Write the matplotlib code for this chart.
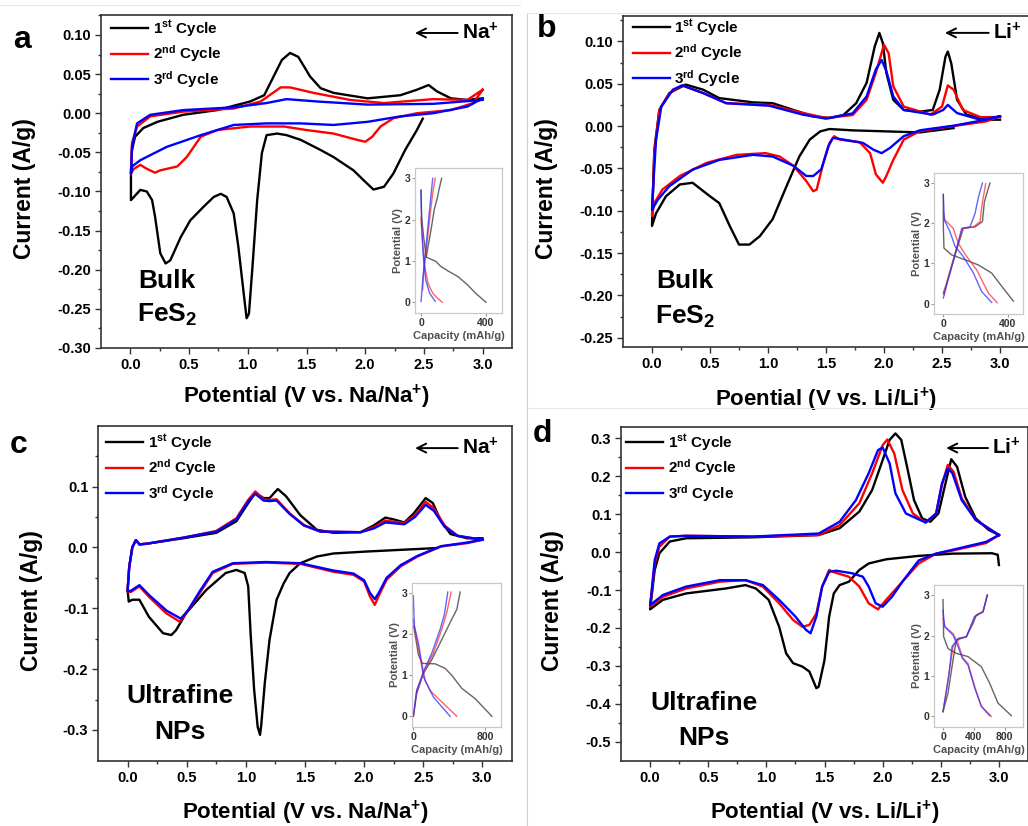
import matplotlib
matplotlib.use("Agg")
import matplotlib.pyplot as plt
import numpy as np

plt.rcParams.update({
    'font.family': ['Liberation Sans', 'DejaVu Sans'],
    'font.weight': 'bold',
    'axes.labelweight': 'bold',
    'axes.unicode_minus': False,
    'mathtext.fontset': 'custom',
    'mathtext.rm': 'Liberation Sans:bold',
    'mathtext.bf': 'Liberation Sans:bold',
    'mathtext.it': 'Liberation Sans:bold',
    'mathtext.default': 'rm',
})

BLACK, RED, BLUE = "#000000", "#ff0000", "#0000ff"

# ---- CV loops (potential V, current A/g) ----
A1 = [(2.49, -0.007), (2.44, -0.0215), (2.34, -0.047), (2.24, -0.077), (2.16, -0.094),
      (2.07, -0.0975), (2.00, -0.0876), (1.90, -0.073), (1.73, -0.056), (1.62, -0.047),
      (1.45, -0.034), (1.33, -0.028), (1.25, -0.026), (1.16, -0.028), (1.12, -0.051),
      (1.08, -0.111), (1.04, -0.196), (1.01, -0.256), (0.99, -0.262), (0.965, -0.23),
      (0.92, -0.171), (0.88, -0.128), (0.82, -0.107), (0.77, -0.103), (0.71, -0.107),
      (0.62, -0.12), (0.51, -0.137), (0.43, -0.158), (0.34, -0.188), (0.30, -0.192),
      (0.255, -0.179), (0.21, -0.132), (0.185, -0.111), (0.14, -0.100), (0.085, -0.098),
      (0.03, -0.107), (0.005, -0.111), (0.005, -0.077), (0.014, -0.047), (0.04, -0.030),
      (0.11, -0.019), (0.23, -0.011), (0.45, -0.002), (0.74, 0.004), (1.02, 0.015),
      (1.14, 0.023), (1.22, 0.047), (1.29, 0.068), (1.36, 0.077), (1.43, 0.072),
      (1.53, 0.047), (1.62, 0.032), (1.73, 0.026), (2.02, 0.019), (2.30, 0.023),
      (2.44, 0.030), (2.54, 0.036), (2.61, 0.028), (2.73, 0.019), (2.87, 0.017), (3.0, 0.019)]
A2 = [(3.0, 0.030), (2.92, 0.013), (2.73, 0.004), (2.44, 0.0), (2.24, -0.0064),
      (2.13, -0.017), (2.06, -0.030), (2.0, -0.0365), (1.93, -0.034), (1.73, -0.026),
      (1.5, -0.0215), (1.31, -0.017), (1.02, -0.017), (0.74, -0.0215), (0.6, -0.030),
      (0.48, -0.056), (0.40, -0.068), (0.255, -0.073), (0.21, -0.076), (0.14, -0.071),
      (0.085, -0.066), (0.03, -0.071), (0.005, -0.077), (0.014, -0.038), (0.057, -0.017),
      (0.17, -0.004), (0.45, 0.002), (0.88, 0.006), (1.11, 0.015), (1.28, 0.033),
      (1.36, 0.033), (1.56, 0.026), (1.87, 0.017), (2.16, 0.013), (2.58, 0.018),
      (2.87, 0.017), (3.0, 0.030)]
A3 = [(3.0, 0.019), (2.87, 0.0085), (2.58, 0.0), (2.3, -0.004), (2.02, -0.011),
      (1.73, -0.015), (1.45, -0.013), (1.16, -0.013), (0.88, -0.015), (0.6, -0.028),
      (0.31, -0.043), (0.085, -0.060), (0.014, -0.068), (0.005, -0.077), (0.014, -0.043),
      (0.057, -0.013), (0.17, -0.002), (0.45, 0.004), (0.88, 0.0075), (1.16, 0.013),
      (1.33, 0.018), (1.59, 0.015), (2.02, 0.011), (2.58, 0.012), (3.0, 0.017)]

B1 = [(2.6, -0.0024), (2.31, -0.0075), (2.02, -0.0063), (1.73, -0.0051), (1.53, -0.0035),
      (1.45, -0.0063), (1.36, -0.016), (1.27, -0.036), (1.16, -0.071), (1.04, -0.110),
      (0.93, -0.130), (0.84, -0.140), (0.75, -0.140), (0.67, -0.118), (0.58, -0.091),
      (0.50, -0.083), (0.35, -0.067), (0.24, -0.069), (0.12, -0.083), (0.035, -0.103),
      (0.0, -0.118), (0.006, -0.087), (0.02, -0.028), (0.063, 0.019), (0.15, 0.039),
      (0.29, 0.049), (0.44, 0.043), (0.58, 0.033), (0.87, 0.028), (1.04, 0.027),
      (1.22, 0.019), (1.39, 0.0115), (1.53, 0.0095), (1.65, 0.013), (1.76, 0.027),
      (1.85, 0.051), (1.92, 0.094), (1.96, 0.110), (1.99, 0.098), (2.02, 0.063),
      (2.08, 0.031), (2.17, 0.019), (2.31, 0.017), (2.42, 0.019), (2.48, 0.043),
      (2.53, 0.082), (2.55, 0.088), (2.58, 0.074), (2.63, 0.031), (2.71, 0.0135),
      (2.88, 0.0075), (3.0, 0.0075)]
B2 = [(3.0, 0.0115), (2.88, 0.0055), (2.6, 0.0), (2.31, -0.006), (2.17, -0.016),
      (2.08, -0.040), (2.02, -0.059), (1.99, -0.067), (1.93, -0.057), (1.88, -0.032),
      (1.79, -0.019), (1.62, -0.016), (1.57, -0.012), (1.53, -0.020), (1.47, -0.047),
      (1.42, -0.075), (1.39, -0.077), (1.33, -0.065), (1.22, -0.047), (1.10, -0.036),
      (0.98, -0.032), (0.73, -0.034), (0.47, -0.0435), (0.24, -0.059), (0.09, -0.075),
      (0.02, -0.091), (0.0, -0.106), (0.006, -0.087), (0.02, -0.032), (0.063, 0.019),
      (0.15, 0.039), (0.26, 0.048), (0.44, 0.039), (0.64, 0.027), (1.01, 0.025),
      (1.30, 0.0155), (1.50, 0.0095), (1.73, 0.013), (1.85, 0.031), (1.93, 0.063),
      (2.0, 0.096), (2.04, 0.086), (2.08, 0.047), (2.17, 0.023), (2.40, 0.0135),
      (2.50, 0.023), (2.55, 0.048), (2.6, 0.043), (2.68, 0.019), (2.83, 0.0106), (3.0, 0.0106)]
B3 = [(3.0, 0.0115), (2.88, 0.0075), (2.6, 0.0004), (2.31, -0.005), (2.17, -0.012),
      (2.05, -0.026), (1.98, -0.032), (1.91, -0.028), (1.82, -0.020), (1.65, -0.016),
      (1.56, -0.014), (1.52, -0.024), (1.46, -0.051), (1.39, -0.059), (1.33, -0.059),
      (1.22, -0.047), (1.04, -0.036), (0.87, -0.034), (0.58, -0.040), (0.35, -0.0515),
      (0.15, -0.071), (0.05, -0.087), (0.0, -0.099), (0.012, -0.067), (0.035, -0.016),
      (0.08, 0.023), (0.18, 0.043), (0.26, 0.048), (0.44, 0.039), (0.64, 0.027),
      (1.01, 0.024), (1.30, 0.0135), (1.50, 0.0087), (1.73, 0.015), (1.85, 0.035),
      (1.93, 0.067), (1.98, 0.078), (2.02, 0.065), (2.08, 0.035), (2.17, 0.019),
      (2.42, 0.0135), (2.51, 0.019), (2.55, 0.025), (2.63, 0.0153), (2.83, 0.0075), (3.0, 0.0115)]

C1 = [(2.62, -0.001), (2.31, -0.004), (2.02, -0.0068), (1.74, -0.010), (1.60, -0.015),
      (1.46, -0.026), (1.37, -0.042), (1.32, -0.059), (1.26, -0.086), (1.20, -0.152),
      (1.16, -0.223), (1.13, -0.292), (1.12, -0.308), (1.10, -0.295), (1.07, -0.234),
      (1.04, -0.141), (1.02, -0.064), (0.99, -0.042), (0.92, -0.037), (0.83, -0.042),
      (0.665, -0.070), (0.495, -0.108), (0.41, -0.136), (0.37, -0.144), (0.30, -0.141),
      (0.18, -0.114), (0.10, -0.086), (0.04, -0.086), (0.01, -0.089), (0.0, -0.070),
      (0.014, -0.032), (0.04, 0.0), (0.07, 0.012), (0.10, 0.005), (0.16, 0.006),
      (0.47, 0.015), (0.75, 0.024), (0.92, 0.043), (1.0, 0.067), (1.08, 0.090),
      (1.15, 0.081), (1.20, 0.081), (1.27, 0.096), (1.34, 0.084), (1.46, 0.053),
      (1.60, 0.029), (1.74, 0.024), (1.97, 0.025), (2.08, 0.036), (2.18, 0.049),
      (2.25, 0.046), (2.34, 0.041), (2.42, 0.056), (2.52, 0.081), (2.58, 0.073),
      (2.65, 0.043), (2.73, 0.022), (2.87, 0.015), (3.0, 0.015)]
C2 = [(3.0, 0.0126), (2.87, 0.007), (2.65, 0.0016), (2.45, -0.015), (2.31, -0.031),
      (2.19, -0.053), (2.12, -0.081), (2.09, -0.0945), (2.05, -0.081), (2.0, -0.056),
      (1.91, -0.045), (1.74, -0.040), (1.46, -0.027), (1.17, -0.025), (0.89, -0.027),
      (0.72, -0.042), (0.61, -0.075), (0.495, -0.108), (0.44, -0.122), (0.325, -0.108),
      (0.18, -0.081), (0.10, -0.064), (0.03, -0.073), (0.0, -0.073), (0.014, -0.032),
      (0.04, 0.0), (0.07, 0.012), (0.10, 0.005), (0.16, 0.006), (0.47, 0.016),
      (0.75, 0.027), (0.92, 0.048), (1.02, 0.078), (1.08, 0.092), (1.15, 0.079),
      (1.20, 0.078), (1.26, 0.079), (1.37, 0.056), (1.49, 0.037), (1.63, 0.026),
      (1.97, 0.025), (2.08, 0.033), (2.18, 0.044), (2.34, 0.040), (2.43, 0.053),
      (2.52, 0.075), (2.59, 0.064), (2.68, 0.036), (2.79, 0.019), (3.0, 0.0126)]
C3 = [(3.0, 0.0126), (2.87, 0.008), (2.65, 0.002), (2.45, -0.014), (2.31, -0.029),
      (2.19, -0.050), (2.12, -0.076), (2.09, -0.085), (2.05, -0.075), (2.0, -0.054),
      (1.91, -0.043), (1.74, -0.038), (1.46, -0.026), (1.17, -0.024), (0.89, -0.026),
      (0.72, -0.040), (0.61, -0.072), (0.51, -0.104), (0.45, -0.117), (0.33, -0.104),
      (0.18, -0.078), (0.10, -0.062), (0.03, -0.071), (0.0, -0.072), (0.014, -0.032),
      (0.04, 0.0), (0.07, 0.012), (0.10, 0.005), (0.16, 0.006), (0.47, 0.016),
      (0.75, 0.026), (0.92, 0.046), (1.02, 0.076), (1.08, 0.088), (1.15, 0.077),
      (1.20, 0.076), (1.26, 0.077), (1.37, 0.055), (1.49, 0.036), (1.63, 0.026),
      (1.97, 0.025), (2.08, 0.031), (2.18, 0.041), (2.34, 0.038), (2.43, 0.050),
      (2.52, 0.070), (2.59, 0.060), (2.68, 0.034), (2.79, 0.019), (3.0, 0.0126)]

D1 = [(3.0, -0.034), (2.99, -0.007), (2.94, -0.003), (2.60, -0.004), (2.31, -0.010),
      (2.03, -0.019), (1.88, -0.030), (1.80, -0.047), (1.71, -0.078), (1.63, -0.087),
      (1.58, -0.109), (1.54, -0.170), (1.50, -0.285), (1.45, -0.355), (1.43, -0.359),
      (1.37, -0.315), (1.31, -0.302), (1.23, -0.293), (1.17, -0.267), (1.11, -0.197),
      (1.02, -0.126), (0.91, -0.096), (0.82, -0.087), (0.65, -0.096), (0.31, -0.109),
      (0.11, -0.126), (0.0, -0.151), (0.01, -0.126), (0.04, -0.047), (0.08, -0.003),
      (0.17, 0.028), (0.31, 0.0365), (0.88, 0.039), (1.45, 0.045), (1.63, 0.063),
      (1.80, 0.107), (1.91, 0.164), (1.98, 0.225), (2.06, 0.296), (2.11, 0.313),
      (2.16, 0.296), (2.21, 0.225), (2.27, 0.137), (2.34, 0.089), (2.41, 0.080),
      (2.48, 0.102), (2.54, 0.181), (2.59, 0.245), (2.64, 0.225), (2.71, 0.146),
      (2.80, 0.089), (2.91, 0.059), (3.0, 0.045)]
D2 = [(3.0, 0.045), (2.89, 0.024), (2.60, 0.004), (2.46, -0.004), (2.31, -0.030),
      (2.17, -0.078), (2.03, -0.126), (1.96, -0.151), (1.88, -0.135), (1.80, -0.091),
      (1.71, -0.065), (1.57, -0.052), (1.54, -0.047), (1.48, -0.091), (1.43, -0.162),
      (1.37, -0.192), (1.31, -0.197), (1.23, -0.179), (1.11, -0.135), (0.97, -0.091),
      (0.82, -0.074), (0.60, -0.078), (0.31, -0.096), (0.11, -0.118), (0.0, -0.144),
      (0.01, -0.118), (0.04, -0.030), (0.08, 0.014), (0.17, 0.041), (0.31, 0.043),
      (0.88, 0.041), (1.45, 0.045), (1.63, 0.071), (1.80, 0.129), (1.91, 0.208),
      (2.0, 0.282), (2.04, 0.297), (2.10, 0.260), (2.17, 0.164), (2.26, 0.102),
      (2.37, 0.078), (2.46, 0.102), (2.51, 0.177), (2.56, 0.230), (2.61, 0.212),
      (2.68, 0.142), (2.80, 0.085), (3.0, 0.045)]
D3 = [(3.0, 0.045), (2.89, 0.027), (2.60, 0.006), (2.46, -0.004), (2.31, -0.022),
      (2.17, -0.078), (2.08, -0.118), (2.0, -0.144), (1.94, -0.135), (1.88, -0.091),
      (1.83, -0.065), (1.74, -0.056), (1.60, -0.049), (1.54, -0.052), (1.48, -0.091),
      (1.43, -0.170), (1.38, -0.214), (1.34, -0.205), (1.25, -0.170), (1.11, -0.126),
      (0.97, -0.087), (0.82, -0.074), (0.60, -0.074), (0.31, -0.091), (0.11, -0.113),
      (0.0, -0.140), (0.01, -0.113), (0.04, -0.021), (0.08, 0.023), (0.17, 0.041),
      (0.31, 0.043), (0.88, 0.041), (1.45, 0.049), (1.63, 0.080), (1.77, 0.137),
      (1.88, 0.208), (1.96, 0.269), (2.0, 0.276), (2.06, 0.234), (2.11, 0.155),
      (2.20, 0.102), (2.37, 0.078), (2.46, 0.102), (2.51, 0.181), (2.56, 0.221),
      (2.60, 0.208), (2.68, 0.137), (2.80, 0.085), (3.0, 0.045)]

# ---- inset galvanostatic curves (capacity mAh/g, potential V) ----
IA = {
    "1d": [(0, 2.72), (4, 2.04), (18, 1.52), (33, 1.09), (92, 0.99), (121, 0.87), (170, 0.75),
           (228, 0.62), (287, 0.42), (336, 0.22), (400, 0.0)],
    "1c": [(33, 1.11), (62, 1.76), (82, 2.25), (101, 2.53), (111, 2.73), (127, 3.0)],
    "2d": [(0, 2.04), (10, 1.44), (23, 0.87), (43, 0.46), (72, 0.22), (101, 0.1), (131, 0.0)],
    "2c": [(10, 0.3), (14, 0.62), (33, 1.27), (53, 2.0), (72, 2.65), (88, 3.0)],
    "3d": [(0, 2.7), (4, 1.84), (14, 1.11), (29, 0.54), (53, 0.22), (88, 0.02)],
    "3c": [(0, 0.02), (18, 0.87), (37, 1.6), (57, 2.41), (72, 3.0)],
}
IB = {
    "1d": [(0, 2.72), (0, 1.91), (4, 1.38), (52, 1.21), (135, 1.09), (218, 0.96), (300, 0.76),
           (363, 0.43), (435, 0.06)],
    "1c": [(0, 0.26), (41, 0.76), (83, 1.34), (124, 1.87), (197, 1.91), (243, 2.04), (255, 2.53),
           (276, 2.82), (290, 3.0)],
    "2d": [(0, 2.28), (10, 2.08), (62, 1.87), (93, 1.5), (145, 1.17), (207, 0.84), (280, 0.26),
           (335, 0.02)],
    "2c": [(4, 0.22), (31, 0.68), (73, 1.25), (120, 1.87), (187, 1.91), (228, 2.04), (243, 2.53),
           (263, 2.98)],
    "3d": [(0, 2.70), (6, 2.08), (41, 1.79), (73, 1.42), (124, 1.17), (187, 0.76), (238, 0.30),
           (300, 0.03)],
    "3c": [(0, 0.14), (41, 0.76), (83, 1.38), (114, 1.87), (166, 1.91), (197, 2.24), (218, 2.65),
           (243, 3.0)],
}
IC = {
    "1d": [(4, 2.2), (56, 1.5), (100, 1.29), (242, 1.28), (353, 1.17), (428, 1.0), (540, 0.68),
           (688, 0.43), (874, 0.0)],
    "1c": [(0, 0.0), (37, 0.55), (112, 1.05), (205, 1.38), (316, 1.87), (428, 2.37), (484, 2.61),
           (521, 3.03)],
    "2d": [(0, 2.37), (37, 1.87), (74, 1.46), (112, 0.96), (186, 0.63), (298, 0.39), (484, 0.0)],
    "2c": [(0, 0.0), (37, 0.63), (130, 1.13), (223, 1.54), (316, 2.12), (372, 2.53), (420, 3.03)],
    "3d": [(0, 2.94), (11, 2.2), (56, 1.79), (93, 1.29), (130, 0.88), (223, 0.47), (409, 0.0)],
    "3c": [(0, 0.0), (37, 0.63), (112, 1.09), (205, 1.54), (298, 2.12), (346, 2.49), (383, 3.03)],
}
ID = {
    "1d": [(0, 2.89), (8, 1.97), (65, 1.68), (173, 1.56), (324, 1.48), (497, 1.23), (605, 0.82),
           (713, 0.33), (886, 0.02)],
    "1c": [(0, 0.12), (65, 0.58), (130, 1.40), (173, 1.89), (303, 1.97), (389, 2.30), (432, 2.51),
           (519, 2.59), (562, 2.92), (575, 3.0)],
    "2d": [(0, 2.42), (22, 2.22), (130, 2.05), (194, 1.81), (259, 1.44), (324, 1.31), (411, 0.74),
           (497, 0.25), (627, 0.0)],
    "2c": [(0, 0.12), (65, 0.90), (130, 1.73), (216, 1.93), (303, 1.97), (411, 2.47), (519, 2.59),
           (575, 3.0)],
    "3d": [(0, 2.63), (22, 2.22), (130, 2.01), (194, 1.73), (251, 1.44), (324, 1.27), (411, 0.70),
           (497, 0.25), (605, 0.02)],
    "3c": [(0, 0.12), (73, 0.99), (117, 1.73), (194, 1.93), (303, 1.97), (411, 2.47), (519, 2.59),
           (575, 3.0)],
}

CYCLE_LABELS = [r"1$^{\rm st}$ Cycle", r"2$^{\rm nd}$ Cycle", r"3$^{\rm rd}$ Cycle"]

W, H = 1028, 826
fig = plt.figure(figsize=(W / 100, H / 100), dpi=100)


def px_rect(l, t, r, b):
    return [l / W, 1 - b / H, (r - l) / W, (b - t) / H]


def fmt(decimals):
    def f(v, pos):
        v = round(v, decimals) + 0.0
        return f"{v:.{decimals}f}"
    return matplotlib.ticker.FuncFormatter(f)


panels = [
    dict(rect=px_rect(101, 15, 512, 348), data=(A1, A2, A3), ylim=(-0.30, 0.1255),
         yticks=np.arange(-0.30, 0.101, 0.05), yminor=0.025, ydec=2,
         xlabel=r"Potential (V vs. Na/Na$^{+}$)", ion=r"Na$^{+}$", letter="a",
         letter_px=(13, 48), text=("Bulk", r"FeS$_{2}$"), txy=(0.315, -0.2146, -0.258),
         ylc=-0.158, xlc=-0.105, leg=(0.025, 0.99), arrow=(0.764, 0.946, 0.878),
         inset=px_rect(415, 168, 502, 313), idata=IA, ixlim=(-37, 499), ixt=[0, 400]),
    dict(rect=px_rect(623, 16, 1029, 347), data=(B1, B2, B3), ylim=(-0.261, 0.130),
         yticks=np.arange(-0.25, 0.101, 0.05), yminor=0.025, ydec=2,
         xlabel=r"Poential (V vs. Li/Li$^{+}$)", ion=r"Li$^{+}$", letter="b",
         letter_px=(537, 37), text=("Bulk", r"FeS$_{2}$"), txy=(0.285, -0.1835, -0.225),
         ylc=-0.160, xlc=-0.118, leg=(0.025, 0.996), arrow=(0.793, 0.949, 0.911),
         inset=px_rect(934, 173, 1023, 314), idata=IB, ixlim=(-58, 495), ixt=[0, 400]),
    dict(rect=px_rect(98, 426, 512, 761), data=(C1, C2, C3), ylim=(-0.351, 0.1995),
         yticks=np.arange(-0.3, 0.101, 0.1), yminor=0.05, ydec=1,
         xlabel=r"Potential (V vs. Na/Na$^{+}$)", ion=r"Na$^{+}$", letter="c",
         letter_px=(10, 453), text=("Ultrafine", "NPs"), txy=(0.44, -0.245, -0.303),
         ylc=-0.133, xlc=-0.112, leg=(0.020, 0.981), arrow=(0.766, 0.934, 0.879),
         inset=px_rect(412, 583, 501, 727), idata=IC, ixlim=(-15, 975), ixt=[0, 800]),
    dict(rect=px_rect(621, 427, 1028, 761), data=(D1, D2, D3), ylim=(-0.551, 0.330),
         yticks=np.arange(-0.5, 0.301, 0.1), yminor=0.05, ydec=1,
         xlabel=r"Potential (V vs. Li/Li$^{+}$)", ion=r"Li$^{+}$", letter="d",
         letter_px=(533, 442), text=("Ultrafine", "NPs"), txy=(0.464, -0.399, -0.4915),
         ylc=-0.140, xlc=-0.112, leg=(0.013, 0.984), arrow=(0.799, 0.937, 0.912),
         inset=px_rect(934, 585, 1023, 727), idata=ID, ixlim=(-117, 1037), ixt=[0, 400, 800]),
]

for p in panels:
    ax = fig.add_axes(p["rect"])
    for series, col, lab in zip(p["data"], (BLACK, RED, BLUE), CYCLE_LABELS):
        arr = np.array(series)
        ax.plot(arr[:, 0], arr[:, 1], color=col, lw=1.7, label=lab)

    ax.set_xlim(-0.25, 3.25)
    ax.set_ylim(*p["ylim"])
    ax.set_xticks(np.arange(0, 3.01, 0.5))
    ax.set_xticks(np.arange(0.25, 3.01, 0.5), minor=True)
    ax.set_yticks(np.round(p["yticks"], 3))
    ax.set_yticks(np.arange(p["yticks"][0] + p["yminor"], p["ylim"][1], 2 * p["yminor"]),
                  minor=True)
    ax.xaxis.set_major_formatter(fmt(1))
    ax.yaxis.set_major_formatter(fmt(p["ydec"]))
    ax.tick_params(which="both", direction="out", top=False, right=False,
                   width=1.0, color="#333333")
    ax.tick_params(which="major", length=4, labelsize=10.5, pad=3)
    ax.tick_params(which="minor", length=2.5)
    for lbl in ax.get_xticklabels() + ax.get_yticklabels():
        lbl.set_fontweight("bold")
    for s in ax.spines.values():
        s.set_linewidth(1.2)
        s.set_color("#333333")

    ax.set_ylabel("Current (A/g)", fontsize=16.5)
    ax.set_xlabel(p["xlabel"], fontsize=16)
    ax.yaxis.set_label_coords(p["ylc"], 0.48)
    ax.xaxis.set_label_coords(0.5, p["xlc"])

    ax.legend(loc="upper left", bbox_to_anchor=p["leg"], frameon=False, fontsize=11,
              handlelength=2.4, handletextpad=0.3, labelspacing=0.3, borderpad=0,
              borderaxespad=0)

    ax.annotate(p["ion"], xy=(p["arrow"][0], p["arrow"][1]),
                xytext=(p["arrow"][2], p["arrow"][1]), xycoords="axes fraction",
                textcoords="axes fraction", ha="left", va="center", fontsize=15,
                fontweight="bold",
                arrowprops=dict(arrowstyle="->", lw=1.4, color="black",
                                shrinkA=1, shrinkB=0, mutation_scale=16))

    tx, ty1, ty2 = p["txy"]
    ax.text(tx, ty1, p["text"][0], ha="center", va="center", fontsize=19, fontweight="bold")
    ax.text(tx, ty2, p["text"][1], ha="center", va="center", fontsize=19, fontweight="bold")

    fig.text(p["letter_px"][0] / W, 1 - p["letter_px"][1] / H, p["letter"],
             fontsize=23, fontweight="bold", va="baseline", ha="left")

    # inset: galvanostatic profiles
    ia = fig.add_axes(p["inset"])
    for key, col in (("1d", "#333333"), ("1c", "#333333"), ("2d", "#ff3030"),
                     ("2c", "#ff3030"), ("3d", "#3030ff"), ("3c", "#3030ff")):
        arr = np.array(p["idata"][key])
        ia.plot(arr[:, 0], arr[:, 1], color=col, lw=1.0, alpha=0.75)
    ia.set_xlim(*p["ixlim"])
    ia.set_ylim(-0.26, 3.25)
    ia.set_xticks(p["ixt"])
    ia.set_yticks([0, 1, 2, 3])
    ia.tick_params(direction="out", length=2, width=0.8, color="#999999",
                   labelsize=7.5, pad=1.5, top=False, right=False)
    for lbl in ia.get_xticklabels() + ia.get_yticklabels():
        lbl.set_fontweight("bold")
        lbl.set_color("#333333")
    for s in ia.spines.values():
        s.set_linewidth(0.9)
        s.set_color("#c8c8c8")
    ia.set_xlabel("Capacity (mAh/g)", fontsize=8, color="#505050", labelpad=2)
    ia.set_ylabel("Potential (V)", fontsize=8, color="#505050", labelpad=1)

# light panel dividers
fig.add_artist(plt.Line2D([527 / W, 527 / W], [0, 1 - 13 / H], color="#d0d0d0", lw=0.8))
fig.add_artist(plt.Line2D([0, 520 / W], [1 - 5 / H, 1 - 5 / H], color="#e6e6e6", lw=0.8))
fig.add_artist(plt.Line2D([527 / W, 1], [1 - 13 / H, 1 - 13 / H], color="#e6e6e6", lw=0.8))
fig.add_artist(plt.Line2D([527 / W, 1], [1 - 408 / H, 1 - 408 / H], color="#e6e6e6", lw=0.8))

fig.savefig("out.png", dpi=100)
